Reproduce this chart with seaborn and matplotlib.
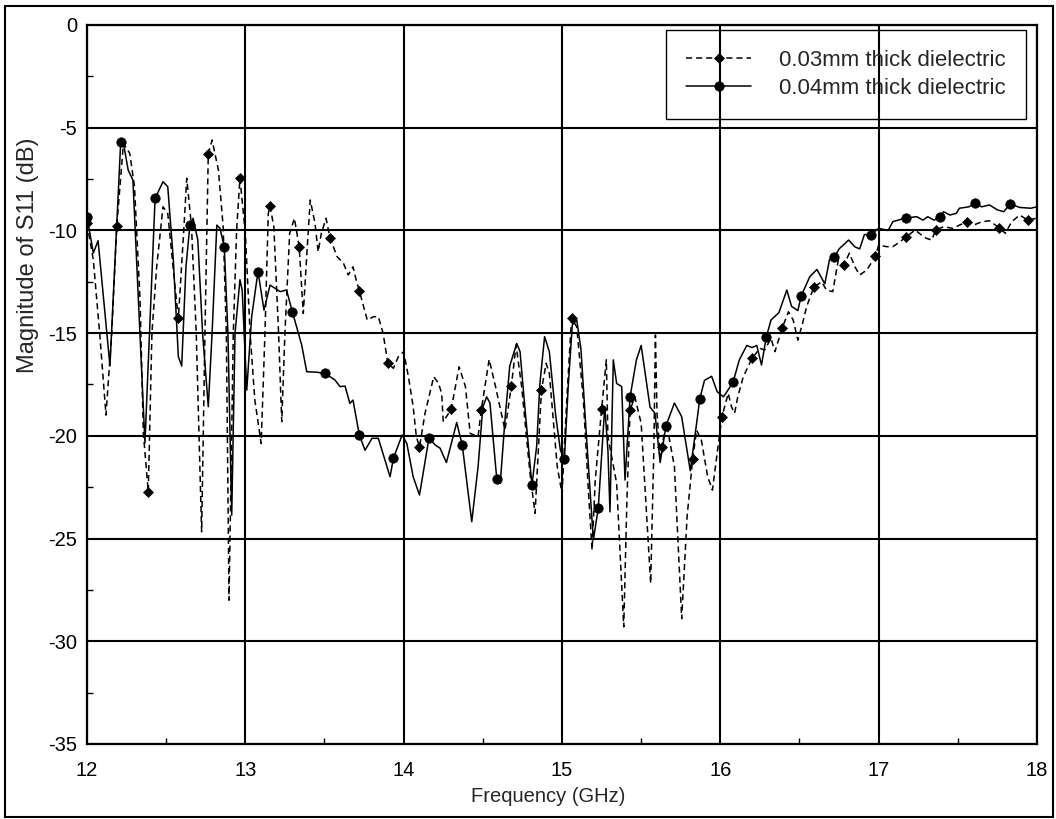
import numpy as np
import pandas as pd
import matplotlib
matplotlib.use("Agg")
import matplotlib.pyplot as plt
from matplotlib.patches import Rectangle
from matplotlib.ticker import MultipleLocator
import seaborn as sns

# ---- 0.03 mm dielectric (dashed, diamond markers) ----
freq_03 = [12.00, 12.04, 12.08, 12.12, 12.156, 12.188, 12.23, 12.27, 12.30, 12.335,
           12.356, 12.387, 12.41, 12.44, 12.48, 12.51, 12.556, 12.577, 12.61, 12.63,
           12.66, 12.69, 12.724, 12.745, 12.766, 12.79, 12.83, 12.86, 12.88, 12.897,
           12.924, 12.945, 12.966, 13.00, 13.03, 13.06, 13.10, 13.124, 13.145, 13.156,
           13.18, 13.21, 13.23, 13.25, 13.28, 13.31, 13.34, 13.366, 13.39, 13.41,
           13.44, 13.46, 13.48, 13.51, 13.535, 13.58, 13.62, 13.65, 13.68, 13.70,
           13.72, 13.77, 13.81, 13.84, 13.87, 13.90, 13.935, 13.966, 14.00, 14.03,
           14.06, 14.08, 14.10, 14.135, 14.19, 14.22, 14.24, 14.25, 14.30, 14.35,
           14.39, 14.42, 14.47, 14.49, 14.54, 14.58, 14.64, 14.68, 14.71, 14.745,
           14.80, 14.83, 14.87, 14.90, 14.92, 14.97, 15.00, 15.03, 15.06, 15.093,
           15.135, 15.17, 15.19, 15.21, 15.25, 15.28, 15.29, 15.345, 15.39, 15.41,
           15.43, 15.46, 15.50, 15.535, 15.56, 15.58, 15.59, 15.60, 15.62, 15.63,
           15.66, 15.71, 15.735, 15.756, 15.79, 15.825, 15.85, 15.88, 15.92, 15.95,
           15.98, 16.01, 16.05, 16.07, 16.09, 16.11, 16.145, 16.20, 16.25, 16.28,
           16.32, 16.345, 16.39, 16.43, 16.46, 16.49, 16.52, 16.545, 16.59, 16.64,
           16.67, 16.71, 16.745, 16.78, 16.815, 16.85, 16.88, 16.925, 16.98, 17.00,
           17.05, 17.09, 17.135, 17.17, 17.23, 17.27, 17.30, 17.335, 17.36, 17.41,
           17.47, 17.51, 17.56, 17.60, 17.65, 17.70, 17.76, 17.80, 17.84, 17.89,
           17.94, 18.00]
s11_03 = [-9.65, -11.44, -15.0, -18.99, -15.0, -9.79, -5.76, -6.25, -7.87, -13.39,
          -19.88, -22.72, -15.0, -11.77, -8.85, -9.17, -12.74, -14.28, -10.14, -7.46,
          -9.82, -15.0, -24.67, -15.0, -6.28, -5.6, -7.06, -9.82, -15.0, -28.0,
          -15.0, -9.98, -7.46, -10.14, -15.0, -18.26, -20.37, -15.0, -9.17, -8.81,
          -9.82, -15.0, -19.31, -15.0, -10.14, -9.41, -10.79, -14.04, -10.95, -8.52,
          -9.65, -11.04, -10.14, -9.41, -10.38, -11.28, -11.6, -12.17, -11.77, -12.41,
          -12.94, -14.36, -14.2, -14.2, -15.0, -16.47, -16.71, -16.15, -15.9, -17.12,
          -18.58, -20.04, -20.53, -18.9, -17.12, -17.44, -17.93, -19.31, -18.71, -16.64,
          -17.6, -19.88, -20.04, -18.74, -16.28, -17.6, -19.72, -17.58, -15.58, -17.6,
          -21.99, -23.77, -17.77, -16.47, -16.96, -21.5, -22.8, -18.26, -14.28, -14.69,
          -18.26, -23.1, -25.56, -22.15, -18.71, -16.3, -20.04, -22.3, -29.3, -23.1,
          -18.74, -18.1, -19.39, -23.94, -27.18, -20.7, -15.09, -18.9, -21.0, -20.53,
          -19.39, -21.5, -25.56, -28.9, -23.94, -21.14, -19.72, -20.2, -21.99, -22.64,
          -20.85, -19.07, -17.93, -18.58, -18.9, -18.1, -17.12, -16.23, -15.74, -15.82,
          -15.25, -15.9, -14.77, -13.96, -14.36, -15.34, -14.5, -13.71, -12.77, -12.5,
          -12.9, -12.98, -11.44, -11.68, -11.11, -11.77, -12.17, -11.93, -11.25, -10.71,
          -10.79, -10.79, -10.55, -10.34, -9.98, -10.22, -10.38, -10.47, -9.98, -9.82,
          -9.9, -9.74, -9.58, -9.74, -9.58, -9.53, -9.87, -10.14, -9.58, -9.25,
          -9.49, -9.41]
marks_03 = [12.00, 12.188, 12.387, 12.577, 12.766, 12.966, 13.156, 13.34, 13.535, 13.72,
            13.90, 14.10, 14.30, 14.49, 14.68, 14.87, 15.06, 15.25, 15.43, 15.63,
            15.825, 16.01, 16.20, 16.39, 16.59, 16.78, 16.98, 17.17, 17.36, 17.56,
            17.76, 17.94]

# ---- 0.04 mm dielectric (solid, circle markers) ----
freq_04 = [12.00, 12.04, 12.07, 12.145, 12.213, 12.23, 12.26, 12.29, 12.366, 12.43,
           12.48, 12.51, 12.545, 12.577, 12.598, 12.625, 12.65, 12.67, 12.70, 12.73,
           12.766, 12.79, 12.82, 12.84, 12.867, 12.89, 12.914, 12.935, 12.966, 12.98,
           13.009, 13.04, 13.08, 13.118, 13.156, 13.22, 13.26, 13.297, 13.356, 13.388,
           13.45, 13.503, 13.566, 13.598, 13.63, 13.66, 13.68, 13.72, 13.756, 13.80,
           13.84, 13.914, 13.935, 13.99, 14.02, 14.06, 14.10, 14.13, 14.16, 14.20,
           14.23, 14.27, 14.335, 14.37, 14.40, 14.43, 14.47, 14.50, 14.524, 14.545,
           14.588, 14.61, 14.64, 14.67, 14.714, 14.735, 14.77, 14.81, 14.84, 14.86,
           14.89, 14.92, 14.96, 14.99, 15.015, 15.04, 15.065, 15.093, 15.12, 15.15,
           15.198, 15.229, 15.27, 15.29, 15.303, 15.324, 15.345, 15.377, 15.398, 15.43,
           15.47, 15.50, 15.556, 15.587, 15.62, 15.657, 15.71, 15.756, 15.81, 15.85,
           15.87, 15.90, 15.945, 15.98, 16.02, 16.08, 16.12, 16.167, 16.20, 16.23,
           16.26, 16.29, 16.32, 16.37, 16.42, 16.45, 16.49, 16.51, 16.565, 16.61,
           16.66, 16.69, 16.72, 16.75, 16.81, 16.85, 16.88, 16.91, 16.95, 17.00,
           17.06, 17.09, 17.17, 17.24, 17.28, 17.31, 17.35, 17.39, 17.41, 17.45,
           17.49, 17.51, 17.57, 17.61, 17.65, 17.70, 17.75, 17.79, 17.83, 17.89,
           17.96, 18.00]
s11_04 = [-9.33, -11.1, -10.5, -16.6, -5.68, -5.75, -7.06, -7.55, -20.35, -8.44,
          -7.63, -7.87, -11.4, -16.15, -16.6, -11.77, -9.74, -9.41, -10.47, -15.0,
          -18.58, -15.0, -9.74, -9.9, -10.8, -15.0, -23.86, -15.0, -12.4, -12.9,
          -17.77, -14.2, -12.0, -13.88, -12.66, -12.98, -12.9, -13.96, -15.58, -16.88,
          -16.9, -16.96, -17.28, -17.6, -17.58, -18.42, -18.26, -19.96, -20.7, -20.12,
          -20.12, -21.99, -21.1, -19.96, -20.37, -21.99, -22.88, -21.5, -20.1, -20.45,
          -20.6, -21.3, -19.35, -20.45, -22.3, -24.18, -21.5, -18.6, -18.1, -18.4,
          -22.1, -22.3, -19.2, -16.6, -15.5, -15.9, -19.0, -22.4, -20.5, -17.5,
          -15.17, -15.9, -19.0, -20.7, -21.14, -17.5, -14.6, -14.36, -15.8, -19.5,
          -25.07, -23.53, -18.58, -20.7, -23.7, -16.3, -17.45, -17.6, -22.15, -18.1,
          -16.3, -15.6, -18.6, -18.9, -21.3, -19.5, -18.4, -19.07, -21.7, -19.4,
          -18.2, -17.3, -17.1, -17.85, -18.1, -17.4, -16.3, -15.6, -15.7, -15.6,
          -16.55, -15.2, -14.36, -14.0, -12.9, -13.7, -13.9, -13.2, -12.25, -11.9,
          -12.6, -11.4, -11.3, -10.9, -10.47, -10.8, -10.9, -10.2, -10.2, -9.9,
          -10.0, -9.57, -9.4, -9.33, -9.5, -9.33, -9.5, -9.33, -9.09, -9.25,
          -9.17, -8.92, -8.85, -8.68, -8.85, -8.76, -9.0, -9.09, -8.71, -8.88,
          -8.92, -8.85]
marks_04 = [12.00, 12.213, 12.43, 12.65, 12.867, 13.08, 13.297, 13.503, 13.72, 13.935,
            14.16, 14.37, 14.588, 14.81, 15.015, 15.229, 15.43, 15.657, 15.87, 16.08,
            16.29, 16.51, 16.72, 16.95, 17.17, 17.39, 17.61, 17.83]

labels = ["0.03mm thick dielectric", "0.04mm thick dielectric"]
x_ticks = [12, 13, 14, 15, 16, 17, 18]
y_ticks = [0, -5, -10, -15, -20, -25, -30, -35]

sns.set_style("ticks")
plt.rcParams["font.family"] = ["Liberation Sans", "DejaVu Sans"]
plt.rcParams["axes.unicode_minus"] = False

W, H = 1056, 819
fig = plt.figure(figsize=(W / 100, H / 100), dpi=100)
ax = fig.add_axes([87 / W, (H - 744) / H, 950 / W, 719 / H])

series = [
    (freq_03, s11_03, marks_03, labels[0], (0, (4, 2.6)), "D", 5.4),
    (freq_04, s11_04, marks_04, labels[1], "-", "o", 6.8),
]
for f, v, m, lab, ls, mk, ms in series:
    df = pd.DataFrame({"freq": f, "s11": v})
    idx = np.flatnonzero(np.isin(np.array(f), np.array(m))).tolist()
    sns.lineplot(data=df, x="freq", y="s11", ax=ax, estimator=None, sort=False,
                 color="black", linestyle=ls, linewidth=1.1,
                 marker=mk, markersize=ms, markevery=idx,
                 markerfacecolor="black", markeredgecolor="black",
                 markeredgewidth=0.5, label=lab)

ax.set_xlim(12, 18)
ax.set_ylim(-35, 0)
ax.set_xticks(x_ticks)
ax.set_yticks(y_ticks)
ax.set_xticklabels([str(t) for t in x_ticks])
ax.set_yticklabels([str(t) for t in y_ticks])
ax.xaxis.set_minor_locator(MultipleLocator(0.5))
ax.yaxis.set_minor_locator(MultipleLocator(2.5))

ax.grid(True, which="major", color="black", linewidth=1.5)
ax.set_axisbelow(True)
for sp in ax.spines.values():
    sp.set_color("black")
    sp.set_linewidth(1.6)

ax.tick_params(which="major", length=0, labelsize=14.5, colors="black")
ax.tick_params(axis="y", which="major", pad=7)
ax.tick_params(axis="x", which="major", pad=12)
ax.tick_params(which="minor", direction="in", length=4, width=1, color="black")

ax.set_xlabel("Frequency (GHz)", fontsize=14.5)
ax.set_ylabel("Magnitude of S11 (dB)", fontsize=17)
ax.xaxis.set_label_coords(0.485, -0.060)
ax.yaxis.set_label_coords(-0.050, 0.68)

leg = ax.legend(loc="upper right", bbox_to_anchor=(1 - 11 / 950, 1 - 5 / 719),
                fontsize=16, frameon=True, fancybox=False, facecolor="none",
                edgecolor="black", framealpha=1, handlelength=2.93,
                handletextpad=1.26, labelspacing=0.31, borderpad=0.9,
                borderaxespad=0)
leg.get_frame().set_linewidth(1.0)

# outer frame round the whole figure
fig.add_artist(Rectangle((5 / W, 2 / H), 1048 / W, 811 / H, transform=fig.transFigure,
                         fill=False, edgecolor="black", linewidth=1.5))

fig.savefig("out.png", dpi=100, facecolor="white")
